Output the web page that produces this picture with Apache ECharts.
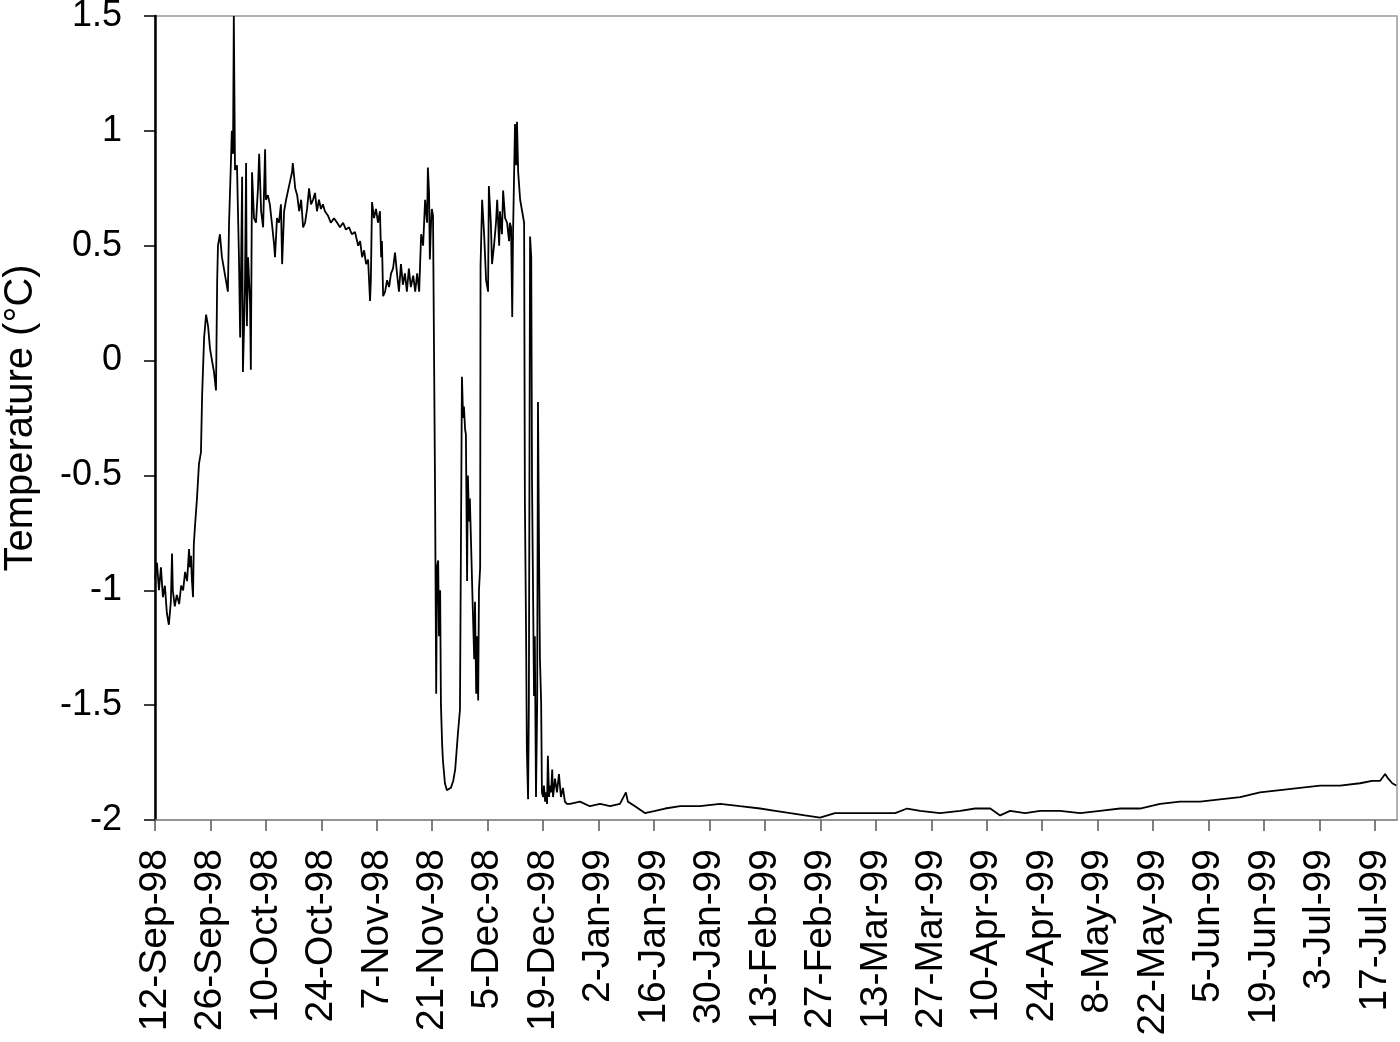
<!DOCTYPE html>
<html>
<head>
<meta charset="utf-8">
<script src="https://cdn.jsdelivr.net/npm/echarts@6/dist/echarts.min.js"></script>
<style>
html,body{margin:0;padding:0;background:#fff;}
#chart{width:1400px;height:1042px;}
</style>
</head>
<body>
<div id="chart"></div>
<script>
// Day offsets counted from 12-Sep-98, temperatures in °C
const autumnDays = [0.0,0.5,1.0,1.5,2.0,2.5,3.0,3.5,4.0,4.3,4.5,5.0,5.5,6.1,6.6,7.1,7.6,8.1,8.6,8.8,9.1,9.3,9.6,9.8,10.1,10.6,11.1,11.6,11.9,12.4,12.9,13.4,13.9,14.4,14.9,15.4,15.7,15.9,16.4,16.9,17.4,17.9,18.4,18.7,19.2,19.4,19.7,19.9,20.2,20.7,21.2,21.5,21.7,22.0,22.2,22.7,23.0,23.2,23.5,24.0,24.2,24.5,25.0,25.5,26.0,26.3,26.8,27.3,27.8,28.0,28.5,29.0,29.5,30.1,30.3,30.8,31.3,31.8,32.1,32.6,33.1,33.6,34.1,34.6,34.8,35.4,35.9,36.4,36.9,37.4,37.9,38.4,38.9,39.4,39.9,40.4,40.9,41.4,41.9,42.4,42.9,43.7,44.4,45.2,46.0,46.7,47.5,48.2,49.0,49.7,50.5,51.3,51.8,52.3,52.8,53.3,53.8,54.3,54.5,54.8,55.3,55.8,56.3,56.8,57.1,57.3,57.6,58.1,58.6,59.1,59.6,60.1,60.6,61.1,61.6,62.1,62.6,63.1,63.6,64.1,64.6,65.2,65.7,66.2,66.7,67.2,67.7,68.2,68.7,68.9,69.2,69.4,69.7,69.9,70.2];
const autumnTemps = [-0.95,-0.88,-1.00,-0.90,-1.03,-0.98,-1.10,-1.15,-1.05,-0.84,-1.00,-1.07,-1.02,-1.06,-0.98,-1.00,-0.92,-0.96,-0.82,-0.90,-0.85,-0.95,-1.03,-0.80,-0.72,-0.60,-0.45,-0.40,-0.15,0.10,0.20,0.15,0.05,0.00,-0.05,-0.13,0.35,0.50,0.55,0.45,0.40,0.35,0.30,0.60,0.88,1.00,0.90,1.50,0.83,0.85,0.45,0.10,0.36,0.80,-0.05,0.30,0.86,0.15,0.45,0.25,-0.04,0.82,0.62,0.60,0.75,0.90,0.65,0.58,0.92,0.70,0.72,0.68,0.60,0.50,0.45,0.62,0.60,0.68,0.42,0.65,0.70,0.70,0.78,0.82,0.86,0.75,0.72,0.65,0.70,0.58,0.60,0.66,0.75,0.68,0.70,0.73,0.65,0.70,0.66,0.68,0.65,0.63,0.60,0.62,0.60,0.58,0.60,0.57,0.58,0.55,0.56,0.50,0.52,0.45,0.48,0.42,0.44,0.26,0.35,0.69,0.62,0.66,0.60,0.65,0.45,0.52,0.28,0.30,0.35,0.32,0.38,0.40,0.47,0.38,0.30,0.42,0.33,0.38,0.30,0.40,0.32,0.37,0.30,0.38,0.30,0.55,0.50,0.70,0.60,0.84,0.73,0.44,0.60,0.66,0.63];

const freezeDays = [70.7,71.0,71.2,71.5,71.7,72.0,72.2,72.5,72.7,73.2,73.7,74.2,74.7,75.3,75.8,76.5,77.0,77.5,77.8,78.0,78.3,78.5,78.8,79.0,79.3,79.5,80.1,80.6,80.8,81.1,81.3,81.6,81.8,82.1,82.2,82.6,83.1,83.6,84.1,84.3,84.8,85.1,85.6,86.1,86.4,86.9,87.1,87.6,87.9,88.4,88.9,89.4,89.6,89.9,90.2,90.4,90.9,91.2,91.4,91.7,92.2,92.7,93.2,93.4,93.7,93.9,94.2,94.4,94.7,95.0,95.2,95.4,95.7,95.9,96.2,96.5,96.7,97.0,97.2,97.5,97.7,98.0,98.2,98.5,98.7,99.0,99.2,99.5,99.7,100.0,100.3,100.5,101.0,101.5,102.0,102.5,103.0,103.5,104.0];
const freezeTemps = [-0.53,-1.45,-0.90,-0.87,-1.20,-1.00,-1.50,-1.67,-1.74,-1.84,-1.87,-1.87,-1.86,-1.83,-1.78,-1.62,-1.52,-0.07,-0.25,-0.20,-0.30,-0.32,-0.96,-0.50,-0.70,-0.60,-0.99,-1.30,-1.05,-1.45,-1.20,-1.48,-1.00,-0.90,0.41,0.70,0.55,0.35,0.30,0.76,0.60,0.42,0.50,0.60,0.70,0.50,0.65,0.55,0.74,0.62,0.60,0.52,0.60,0.58,0.19,0.55,1.03,0.85,1.04,0.82,0.70,0.65,0.60,-0.62,-1.20,-1.70,-1.91,-1.50,0.54,0.45,-0.53,-0.90,-1.46,-1.20,-1.90,-1.49,-0.18,-0.90,-1.30,-1.49,-1.88,-1.90,-1.85,-1.92,-1.88,-1.93,-1.72,-1.90,-1.85,-1.88,-1.78,-1.90,-1.82,-1.88,-1.80,-1.90,-1.86,-1.92,-1.93];

const winterDays = [104.8,107.3,109.8,112.4,114.9,117.4,118.9,119.4,121.2,123.7,126.3,128.8,132.6,137.6,142.7,147.7,152.8,156.6,160.4,164.1,167.9,171.7,175.5,179.3,183.1,186.9,189.9,193.2,198.2,203.3,207.1,210.9,213.4,215.9,219.7,223.5,228.5,233.6,238.6,243.7,248.7,253.8,258.8,263.9,268.9,274.0,279.0,284.1,289.1,294.2,299.2,304.3,307.3,309.3,310.6,311.4,312.4,313.4];
const winterTemps = [-1.93,-1.92,-1.94,-1.93,-1.94,-1.93,-1.88,-1.92,-1.94,-1.97,-1.96,-1.95,-1.94,-1.94,-1.93,-1.94,-1.95,-1.96,-1.97,-1.98,-1.99,-1.97,-1.97,-1.97,-1.97,-1.97,-1.95,-1.96,-1.97,-1.96,-1.95,-1.95,-1.98,-1.96,-1.97,-1.96,-1.96,-1.97,-1.96,-1.95,-1.95,-1.93,-1.92,-1.92,-1.91,-1.90,-1.88,-1.87,-1.86,-1.85,-1.85,-1.84,-1.83,-1.83,-1.80,-1.82,-1.84,-1.85];

const yTicks = [-2, -1.5, -1, -0.5, 0, 0.5, 1, 1.5];
const monthNames = ['Jan','Feb','Mar','Apr','May','Jun','Jul','Aug','Sep','Oct','Nov','Dec'];
const startDate = Date.UTC(1998, 8, 12);
const xMax = 313.6;
const tickStepDays = 14;

const allDays = autumnDays.concat(freezeDays, winterDays);
const allTemps = autumnTemps.concat(freezeTemps, winterTemps);
const seriesData = allDays.map((d, i) => [d, allTemps[i]]);

function dayLabel(v) {
  const d = new Date(startDate + Math.round(v) * 86400000);
  return d.getUTCDate() + '-' + monthNames[d.getUTCMonth()] + '-' + String(d.getUTCFullYear()).slice(2);
}

const chart = echarts.init(document.getElementById('chart'), null, {renderer: 'canvas'});
const fontFam = '"Liberation Sans", Arial, sans-serif';
chart.setOption({
  animation: false,
  backgroundColor: '#fff',
  grid: {
    left: 155, right: 3, top: 16, bottom: 222,
    containLabel: false,
    outerBoundsMode: 'none',
    show: true, borderColor: '#9a9a9a', borderWidth: 1.5, backgroundColor: 'transparent'
  },
  xAxis: {
    type: 'value',
    min: 0, max: xMax, interval: tickStepDays,
    splitLine: {show: false},
    axisLine: {show: true, onZero: false, lineStyle: {color: '#8a8a8a', width: 1.5}},
    axisTick: {show: true, length: 11, lineStyle: {color: '#555', width: 1.5}},
    axisLabel: {
      rotate: 90, margin: 29, color: '#000', fontSize: 39, fontFamily: fontFam,
      showMaxLabel: false,
      formatter: dayLabel
    }
  },
  yAxis: {
    type: 'value',
    min: yTicks[0], max: yTicks[yTicks.length - 1], interval: 0.5,
    splitLine: {show: false},
    axisLine: {show: true, lineStyle: {color: '#000', width: 2.5}},
    axisTick: {show: true, length: 11, lineStyle: {color: '#000', width: 1.5}},
    axisLabel: {margin: 33, color: '#000', fontSize: 36, fontFamily: fontFam,
      formatter: v => String(v)},
    name: 'Temperature (\u00B0C)',
    nameLocation: 'middle',
    nameRotate: 90,
    nameGap: 114,
    nameTextStyle: {color: '#000', fontSize: 40, fontFamily: fontFam}
  },
  series: [{
    type: 'line',
    data: seriesData,
    showSymbol: false,
    symbol: 'none',
    lineStyle: {color: '#000', width: 1.8},
    clip: true
  }]
});
</script>
</body>
</html>
